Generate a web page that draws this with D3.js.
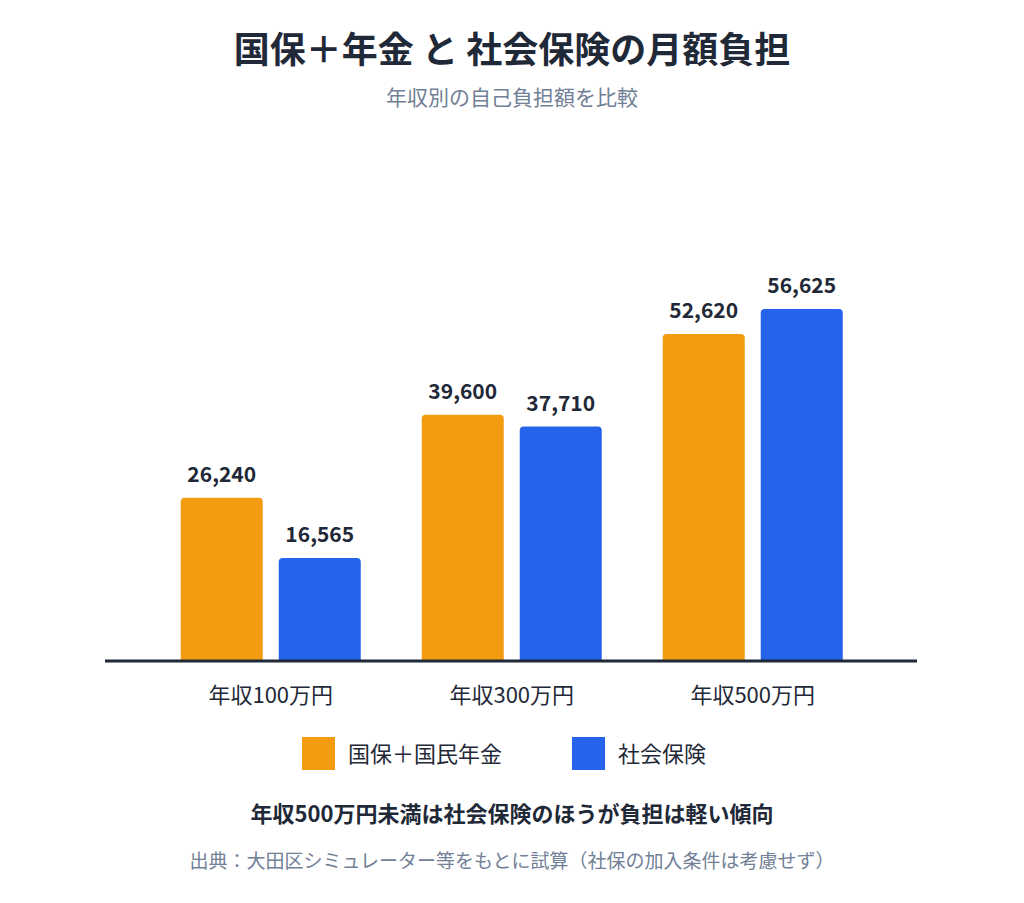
<!DOCTYPE html>
<html>
<head>
<meta charset="utf-8">
<script src="https://cdn.jsdelivr.net/npm/d3@7"></script>
<style>
  body { margin: 0; background: #fff; }
  text { font-family: "Noto Sans CJK JP", "Noto Sans", sans-serif; }
</style>
</head>
<body>
<svg id="chart" width="1024" height="903"></svg>
<script>
// data
const categories = ["年収100万円", "年収300万円", "年収500万円"];
const seriesNames = ["国保＋国民年金", "社会保険"];
const kokuhoValues = [26240, 39600, 52620];
const shahoValues = [16565, 37710, 56625];
const seriesColors = ["#f39c12", "#2563eb"];

const rows = categories.map((c, i) => ({ cat: c, values: [kokuhoValues[i], shahoValues[i]] }));

const svg = d3.select("#chart");
const baseY = 661;

const x0 = d3.scaleBand().domain(categories).range([120.5, 903]).paddingInner(0.253).paddingOuter(0.25);
const x1 = d3.scaleBand().domain(seriesNames).range([0, x0.bandwidth()]).paddingInner(0.163);
const y = d3.scaleLinear().domain([0, 60000]).range([baseY, 288]);

// title
svg.append("text").attr("x", 512).attr("y", 63).attr("text-anchor", "middle")
  .attr("font-size", 36).attr("font-weight", 700).attr("fill", "#1f2937")
  .text("国保＋年金 と 社会保険の月額負担");
svg.append("text").attr("x", 512).attr("y", 105).attr("text-anchor", "middle")
  .attr("font-size", 21).attr("fill", "#718096")
  .text("年収別の自己負担額を比較");

// top-rounded bar
function barPath(x, yTop, w, h, r) {
  return `M${x},${yTop + h}V${yTop + r}Q${x},${yTop} ${x + r},${yTop}H${x + w - r}Q${x + w},${yTop} ${x + w},${yTop + r}V${yTop + h}Z`;
}

const groups = svg.append("g").selectAll("g").data(rows).join("g")
  .attr("transform", d => `translate(${x0(d.cat)},0)`);

groups.selectAll("path").data(d => d.values.map((v, i) => ({ v, s: seriesNames[i], i })))
  .join("path")
  .attr("fill", d => seriesColors[d.i])
  .attr("d", d => barPath(x1(d.s), y(d.v), x1.bandwidth(), baseY - y(d.v), 4));

groups.selectAll("text.val").data(d => d.values.map((v, i) => ({ v, s: seriesNames[i], i })))
  .join("text").attr("class", "val")
  .attr("x", d => x1(d.s) + x1.bandwidth() / 2)
  .attr("y", d => y(d.v) - 16)
  .attr("text-anchor", "middle").attr("font-size", 21).attr("font-weight", 700)
  .attr("fill", "#1f2937")
  .text(d => d3.format(",")(d.v));

// baseline
svg.append("line").attr("x1", 105).attr("x2", 917).attr("y1", baseY).attr("y2", baseY)
  .attr("stroke", "#1f2937").attr("stroke-width", 3);

// category labels
svg.append("g").selectAll("text").data(categories).join("text")
  .attr("x", d => x0(d) + x0.bandwidth() / 2).attr("y", 703)
  .attr("text-anchor", "middle").attr("font-size", 22).attr("fill", "#1f2937")
  .text(d => d);

// legend
const legendX = [302, 572];
const legend = svg.append("g").selectAll("g").data(seriesNames).join("g")
  .attr("transform", (d, i) => `translate(${legendX[i]},737)`);
legend.append("rect").attr("width", 33).attr("height", 33).attr("fill", (d, i) => seriesColors[i]);
legend.append("text").attr("x", 46).attr("y", 25).attr("font-size", 22).attr("fill", "#1f2937").text(d => d);

// note + source
svg.append("text").attr("x", 512).attr("y", 822).attr("text-anchor", "middle")
  .attr("font-size", 22).attr("font-weight", 700).attr("fill", "#1f2937")
  .text("年収500万円未満は社会保険のほうが負担は軽い傾向");
svg.append("text").attr("x", 512).attr("y", 868).attr("text-anchor", "middle")
  .attr("font-size", 19).attr("fill", "#718096")
  .text("出典：大田区シミュレーター等をもとに試算（社保の加入条件は考慮せず）");
</script>
</body>
</html>
